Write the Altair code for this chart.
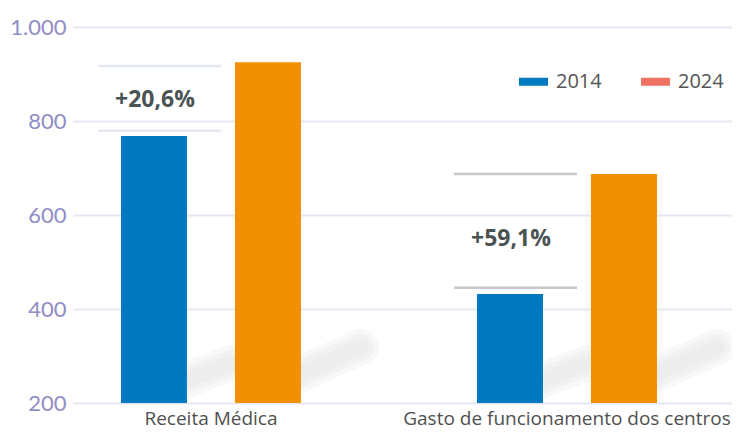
import altair as alt
import pandas as pd

# ---- data ----
categories = ["Receita Médica", "Gasto de funcionamento dos centros"]
years = ["2014", "2024"]
values_2014 = [768, 432]
values_2024 = [925, 687]
change_labels = ["+20,6%", "+59,1%"]
change_label_y = [845, 549]
bracket_upper = [917, 687]
bracket_lower = [779, 445]
y_ticks = [200, 400, 600, 800, 1000]
axis_min = 200
axis_max = 1000

# ---- tables ----
bars = pd.DataFrame(
    [{"cat": c, "year": years[0], "value": v} for c, v in zip(categories, values_2014)]
    + [{"cat": c, "year": years[1], "value": v} for c, v in zip(categories, values_2024)]
)
brackets = pd.DataFrame(
    [{"cat": c, "level": u} for c, u in zip(categories, bracket_upper)]
    + [{"cat": c, "level": l} for c, l in zip(categories, bracket_lower)]
)
labels = pd.DataFrame({"cat": categories, "label": change_labels, "ypos": change_label_y})

BLUE = "#0079c1"
ORANGE = "#f29100"
SALMON = "#ee7262"

x_scale = alt.Scale(domain=categories, paddingInner=0.4944, paddingOuter=0.1727, align=0.39)
y_scale = alt.Scale(domain=[axis_min, axis_max], nice=False, zero=False)

x_axis = alt.Axis(
    title=None, labelAngle=0, domain=False, ticks=False, grid=False, labelLimit=0,
    labelFont="Open Sans", labelFontSize=19, labelColor="#505050",
    labelBaseline="alphabetic", labelPadding=21,
)
y_axis = alt.Axis(
    title=None, values=y_ticks, domain=False, ticks=False, grid=True,
    gridColor="#e4e8f1", gridWidth=2, labelFont="Lato", labelFontSize=22,
    labelColor="#8f8dc6", labelPadding=7,
    labelExpr="replace(datum.label, ',', '.')",
)


def X():
    return alt.X("cat:N", sort=categories, scale=x_scale, axis=x_axis)


def Y(field):
    return alt.Y(field, scale=y_scale, axis=y_axis)


# decorative soft shadows behind the bars (stacked strokes fake a blur)
shadow_layers = []
for width in (36, 26, 16):
    shadow_layers.append(
        alt.Chart(bars).transform_filter(alt.datum.year == years[0]).mark_rule(
            color="#d6d6d6", opacity=0.16, strokeWidth=width, strokeCap="round",
            xOffset=-32, x2Offset=20, yOffset=-20, y2Offset=-40,
        ).encode(x=X(), x2=alt.X2("cat:N"), y=alt.datum(axis_min), y2=alt.datum(axis_min))
    )
    shadow_layers.append(
        alt.Chart(bars).transform_filter(alt.datum.year == years[1]).mark_rule(
            color="#d6d6d6", opacity=0.16, strokeWidth=width, strokeCap="round",
            xOffset=78, x2Offset=150, yOffset=-24, y2Offset=-56,
        ).encode(x=X(), x2=alt.X2("cat:N"), y=alt.datum(axis_min), y2=alt.datum(axis_min))
    )

bar_layer = alt.Chart(bars).mark_bar().encode(
    x=X(),
    xOffset=alt.XOffset("year:N", sort=years, scale=alt.Scale(domain=years, paddingInner=0.421, paddingOuter=0)),
    y=Y("value:Q"),
    y2=alt.datum(axis_min),
    color=alt.Color("year:N", scale=alt.Scale(domain=years, range=[BLUE, ORANGE]), legend=None),
)

# legend only: its points sit outside the plot and are clipped away
legend_layer = alt.Chart(bars).mark_square(clip=True).encode(
    x=X(),
    y=alt.datum(-5000),
    color=alt.Color(
        "year:N",
        scale=alt.Scale(domain=years, range=[BLUE, SALMON]),
        legend=alt.Legend(
            title=None, orient="none", legendX=446, legendY=40, direction="horizontal",
            symbolType="M-1,-0.276H1V0.276H-1Z", symbolSize=841, symbolOpacity=1,
            symbolStrokeWidth=0, labelOffset=8, columnPadding=39,
            labelFont="Open Sans", labelFontSize=20, labelColor="#555555",
        ),
    ),
)

bracket_layer = alt.Chart(brackets).mark_rule(strokeWidth=2.5, xOffset=-113, x2Offset=10).encode(
    x=X(), x2=alt.X2("cat:N"),
    y=Y("level:Q"),
    stroke=alt.Stroke("cat:N", scale=alt.Scale(domain=categories, range=["#e4e8f1", "#c8c8c8"]), legend=None),
)

text_layer = alt.Chart(labels).mark_text(
    font="Open Sans", fontSize=23, fontWeight="bold", color="#4a5354", xOffset=-56, baseline="middle"
).encode(
    x=X(),
    y=Y("ypos:Q"),
    text="label:N",
)

chart = alt.layer(
    *shadow_layers, bracket_layer, bar_layer, text_layer, legend_layer
).resolve_scale(color="independent").properties(
    width=659, height=376,
    autosize=alt.AutoSizeParams(type="none"),
    padding={"left": 65, "top": 19, "right": 0, "bottom": 28},
    background="white",
).configure_view(stroke=None)

chart.save("out.html", embed_options={"renderer": "svg", "actions": False})
